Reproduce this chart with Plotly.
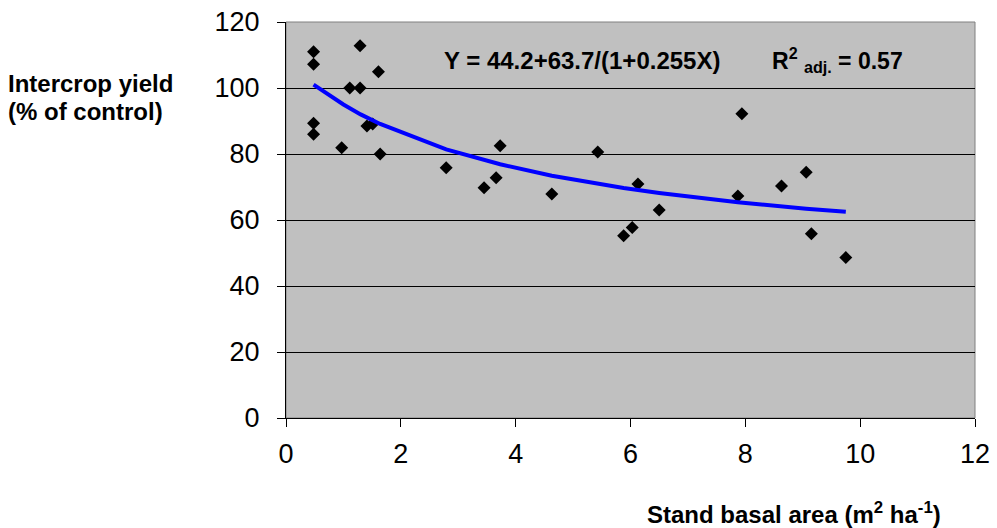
import plotly.graph_objects as go

# Observed data (stand basal area vs intercrop yield)
basal_area = [0.48, 0.48, 0.48, 0.48, 0.97, 1.11, 1.29, 1.29, 1.41, 1.51, 1.61, 1.64,
              2.79, 3.45, 3.66, 3.73, 4.63, 5.43, 5.88, 6.03, 6.13, 6.50, 7.87, 7.94,
              8.63, 9.06, 9.15, 9.75]
yield_pct = [111.0, 107.2, 89.3, 86.0, 81.9, 100.0, 112.8, 100.0, 88.5, 89.1, 104.9, 80.0,
             75.8, 69.8, 72.8, 82.5, 67.9, 80.6, 55.2, 57.7, 70.9, 63.0, 67.3, 92.2,
             70.3, 74.5, 55.8, 48.6]

# Fitted curve values
fit_x = [0.48, 1.0, 1.3, 1.64, 2.79, 3.45, 3.73, 4.63, 5.43, 5.88, 6.13, 6.50, 7.87, 8.63, 9.06, 9.75]
fit_y = [101.0, 95.0, 92.0, 89.1, 81.4, 78.1, 76.9, 73.4, 70.9, 69.7, 69.1, 68.2, 65.4, 64.1, 63.4, 62.5]

x_ticks = [0, 2, 4, 6, 8, 10, 12]
y_ticks = [0, 20, 40, 60, 80, 100, 120]

equation_text = "Y = 44.2+63.7/(1+0.255X)"
r2_text = "R<sup>2</sup> <sub>adj.</sub> = 0.57"
y_title_1 = "Intercrop yield"
y_title_2 = "(% of control)"
x_title = "Stand basal area (m<sup>2</sup> ha<sup>-1</sup>)"

FONT = "Liberation Sans, Arial, sans-serif"

fig = go.Figure()
fig.add_trace(go.Scatter(
    x=basal_area, y=yield_pct, mode="markers",
    marker=dict(symbol="diamond", size=10, color="black", line=dict(width=0)),
    showlegend=False, hoverinfo="skip"))
fig.add_trace(go.Scatter(
    x=fit_x, y=fit_y, mode="lines",
    line=dict(color="#0000FF", width=4),
    showlegend=False, hoverinfo="skip"))

fig.update_layout(
    width=997, height=528,
    margin=dict(l=286, r=22, t=22, b=110, autoexpand=False),
    paper_bgcolor="white", plot_bgcolor="#C0C0C0",
    font=dict(family=FONT, color="black"),
    xaxis=dict(range=[0, 12], tickvals=x_ticks, ticks="outside", ticklen=8,
               tickcolor="black", showline=True, linecolor="black", linewidth=1,
               showgrid=False, zeroline=False, tickfont=dict(size=27, family=FONT),
               ticklabelstandoff=4, automargin=False),
    yaxis=dict(range=[0, 120], tickvals=y_ticks, ticks="outside", ticklen=8,
               tickcolor="black", showline=True, linecolor="black", linewidth=1,
               showgrid=True, gridcolor="black", gridwidth=1, zeroline=False,
               tickfont=dict(size=27, family=FONT), ticklabelstandoff=12,
               automargin=False),
    shapes=[dict(type="rect", xref="paper", yref="paper", x0=0, x1=1, y0=0, y1=1,
                 line=dict(color="#808080", width=1), layer="below")],
    annotations=[
        dict(text="<b>" + equation_text + "</b>", xref="paper", yref="paper",
             x=0.226, y=0.904, xanchor="left", yanchor="middle", showarrow=False,
             font=dict(size=24, family=FONT)),
        dict(text="<b>" + r2_text + "</b>", xref="paper", yref="paper",
             x=0.703, y=0.904, xanchor="left", yanchor="middle", showarrow=False,
             font=dict(size=23, family=FONT)),
        dict(text="<b>" + y_title_1 + "</b>", xref="paper", yref="paper",
             x=-0.4065, y=0.845, xanchor="left", yanchor="middle", align="left",
             showarrow=False, font=dict(size=24, family=FONT)),
        dict(text="<b>" + y_title_2 + "</b>", xref="paper", yref="paper",
             x=-0.4065, y=0.775, xanchor="left", yanchor="middle", align="left",
             showarrow=False, font=dict(size=24, family=FONT)),
        dict(text="<b>" + x_title + "</b>", xref="paper", yref="paper",
             x=0.954, y=-0.24, xanchor="right", yanchor="middle", showarrow=False,
             font=dict(size=24, family=FONT)),
    ],
)

fig.write_html("out.html", config={"displayModeBar": False},
               post_script="document.body.style.margin='0';document.body.style.overflow='hidden';")
